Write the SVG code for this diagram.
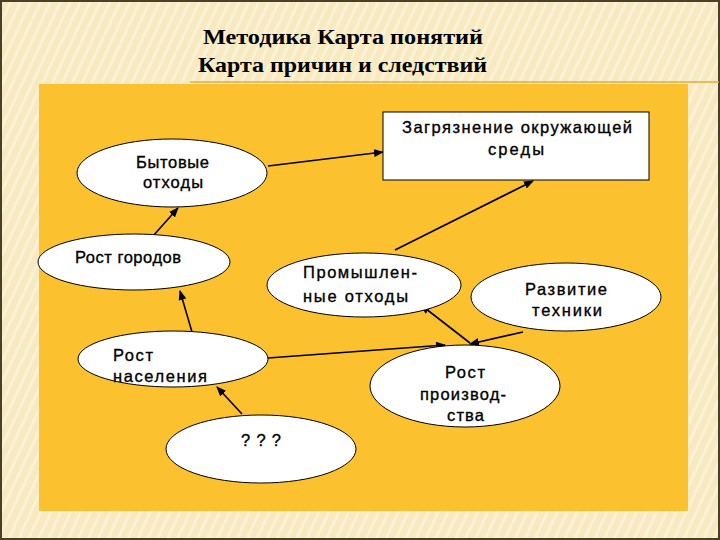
<svg xmlns="http://www.w3.org/2000/svg" width="720" height="540" viewBox="0 0 720 540">
<defs>
<pattern id="stripes" width="9" height="9" patternUnits="userSpaceOnUse" patternTransform="rotate(25)">
<rect width="9" height="9" fill="#f7e9c0"/>
<rect width="3" height="9" fill="#fbf2d6"/>
</pattern>
<marker id="arr" markerUnits="userSpaceOnUse" markerWidth="10" markerHeight="8" refX="9" refY="4" orient="auto">
<path d="M0,0 L10,4 L0,8 z" fill="#000"/>
</marker>
<style>
.node ellipse, .node rect { fill: #fff; stroke: #000; stroke-width: 1; }
.lbl { font-family: "Liberation Sans", Arial, sans-serif; font-size: 16.5px; font-weight: normal; fill: #000; stroke: #000; stroke-width: 0.35; }
.title { font-family: "Liberation Serif", "Times New Roman", serif; font-size: 21px; font-weight: bold; fill: #000; }
.conn line { stroke: #000; stroke-width: 1.6; marker-end: url(#arr); }
</style>
</defs>
<rect x="0" y="0" width="720" height="540" fill="url(#stripes)"/>
<rect x="1" y="1" width="718" height="538" fill="none" stroke="#4a4028" stroke-width="2"/>
<line x1="190" y1="82" x2="719" y2="82" stroke="#e4a83c" stroke-width="1.5"/>
<g id="title">
<text class="title" x="203" y="44" textLength="280" lengthAdjust="spacingAndGlyphs">Методика Карта понятий</text>
<text class="title" x="198" y="72" textLength="289" lengthAdjust="spacingAndGlyphs">Карта причин и следствий</text>
</g>
<rect x="39" y="84" width="649" height="427" fill="#fcc12e"/>
<g id="connectors" class="conn">
<line x1="268" y1="166" x2="383" y2="152"/>
<line x1="153" y1="236" x2="178" y2="208"/>
<line x1="192" y1="332" x2="180" y2="291"/>
<line x1="395" y1="250" x2="533" y2="181"/>
<line x1="268" y1="358" x2="445" y2="345"/>
<line x1="470" y1="343" x2="421" y2="305"/>
<line x1="523" y1="332" x2="470" y2="344"/>
<line x1="242" y1="414" x2="217" y2="387"/>
</g>
<g id="node-zagryaznenie" class="node">
<rect x="383" y="112" width="266" height="68"/>
<text class="lbl" x="402" y="133" textLength="230" lengthAdjust="spacing">Загрязнение окружающей</text>
<text class="lbl" x="488" y="155" textLength="56" lengthAdjust="spacing">среды</text>
</g>
<g id="node-bytovye" class="node">
<ellipse cx="172" cy="173" rx="95" ry="34"/>
<text class="lbl" x="136" y="168" textLength="73" lengthAdjust="spacing">Бытовые</text>
<text class="lbl" x="143" y="188" textLength="60" lengthAdjust="spacing">отходы</text>
</g>
<g id="node-rost-gorodov" class="node">
<ellipse cx="134" cy="262" rx="96" ry="28"/>
<text class="lbl" x="75" y="263" textLength="106" lengthAdjust="spacing">Рост городов</text>
</g>
<g id="node-promyshlennye" class="node">
<ellipse cx="364" cy="285" rx="97" ry="32"/>
<text class="lbl" x="303" y="278" textLength="114" lengthAdjust="spacing">Промышлен-</text>
<text class="lbl" x="303" y="302" textLength="105" lengthAdjust="spacing">ные отходы</text>
</g>
<g id="node-razvitie" class="node">
<ellipse cx="566" cy="297" rx="95" ry="34"/>
<text class="lbl" x="525" y="295" textLength="82" lengthAdjust="spacing">Развитие</text>
<text class="lbl" x="532" y="316" textLength="70" lengthAdjust="spacing">техники</text>
</g>
<g id="node-rost-naseleniya" class="node">
<ellipse cx="173" cy="359" rx="95" ry="28"/>
<text class="lbl" x="113" y="361" textLength="40" lengthAdjust="spacing">Рост</text>
<text class="lbl" x="113" y="382" textLength="94" lengthAdjust="spacing">населения</text>
</g>
<g id="node-unknown" class="node">
<ellipse cx="261" cy="449" rx="95" ry="34"/>
<text class="lbl" x="241" y="446" textLength="40" lengthAdjust="spacing">? ? ?</text>
</g>
<g id="node-rost-proizvodstva" class="node">
<ellipse cx="465" cy="386" rx="95" ry="41"/>
<text class="lbl" x="445" y="378" textLength="40" lengthAdjust="spacing">Рост</text>
<text class="lbl" x="420" y="400" textLength="86" lengthAdjust="spacing">производ-</text>
<text class="lbl" x="447" y="421" textLength="37" lengthAdjust="spacing">ства</text>
</g>
</svg>
